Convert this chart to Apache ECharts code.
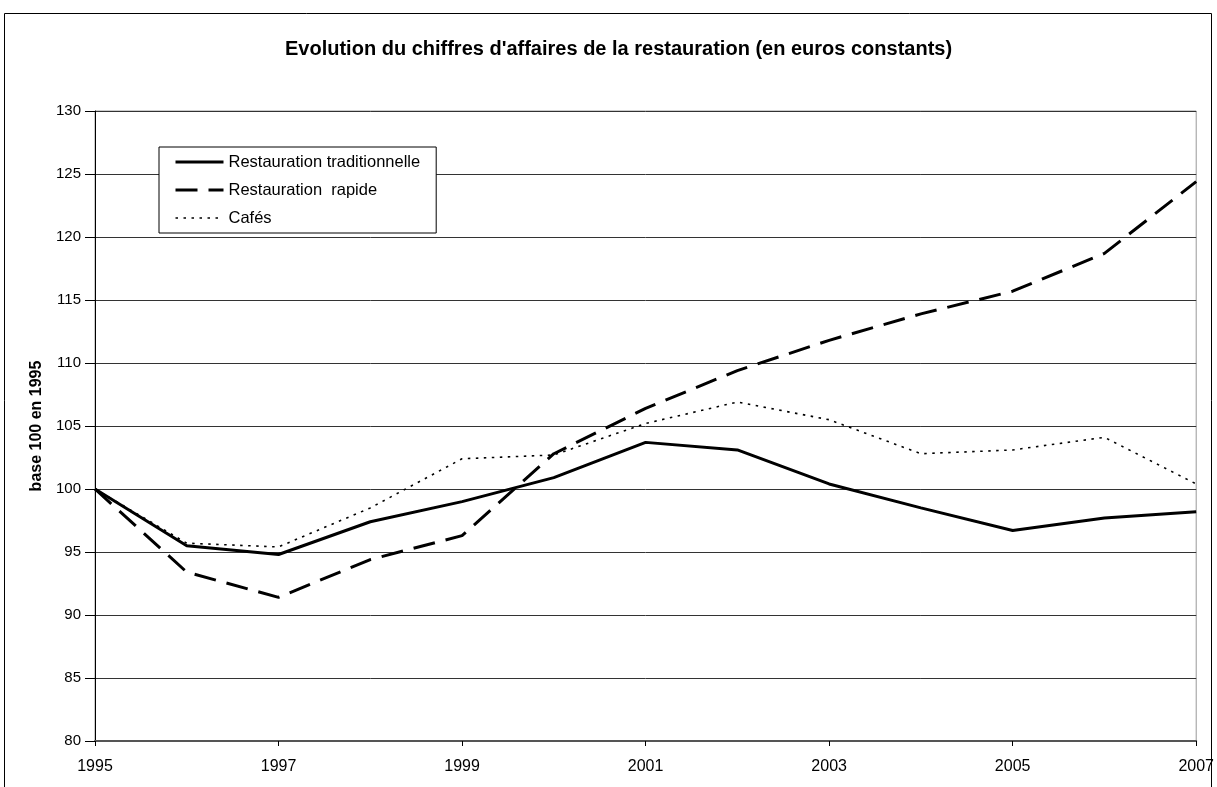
<!DOCTYPE html>
<html>
<head>
<meta charset="utf-8">
<script src="https://cdn.jsdelivr.net/npm/echarts@6/dist/echarts.min.js"></script>
<style>
html,body{margin:0;padding:0;background:#fff;}
#chart{width:1217px;height:787px;}
</style>
</head>
<body>
<div id="chart"></div>
<script>
var years = ['1995','1996','1997','1998','1999','2000','2001','2002','2003','2004','2005','2006','2007'];
var traditionnelle = [100, 95.5, 94.8, 97.4, 99.0, 100.9, 103.7, 103.1, 100.4, 98.5, 96.7, 97.7, 98.2];
var rapide = [100, 93.4, 91.4, 94.4, 96.3, 102.8, 106.4, 109.4, 111.8, 113.9, 115.7, 118.7, 124.4];
var cafes = [100, 95.7, 95.4, 98.5, 102.4, 102.7, 105.2, 106.9, 105.5, 102.8, 103.1, 104.1, 100.4];
var seriesNames = ['Restauration traditionnelle', 'Restauration  rapide', 'Cafés'];
var titleText = "Evolution du chiffres d'affaires de la restauration (en euros constants)";
var yAxisName = 'base 100 en 1995';

var chart = echarts.init(document.getElementById('chart'));
var font = 'Liberation Sans, Arial, sans-serif';
var styles = [
  {color: '#000', width: 3, type: 'solid'},
  {color: '#000', width: 3, type: [22, 11]},
  {color: '#000', width: 1.6, type: [2.5, 5.5]}
];
chart.setOption({
  animation: false,
  backgroundColor: '#fff',
  textStyle: {fontFamily: font},
  title: {
    text: titleText,
    left: 280,
    top: 34,
    textStyle: {fontFamily: font, fontSize: 20, fontWeight: 'bold', color: '#000'}
  },
  graphic: [{
    type: 'rect',
    shape: {x: 4.5, y: 13.5, width: 1207, height: 800},
    style: {fill: 'none', stroke: '#000', lineWidth: 1},
    z: -1
  }],
  legend: {
    orient: 'vertical',
    left: 159,
    top: 147,
    itemWidth: 48,
    itemHeight: 18,
    itemGap: 10,
    padding: [6, 16, 6, 15],
    backgroundColor: '#fff',
    borderColor: '#000',
    borderWidth: 1,
    itemStyle: {color: 'rgba(0,0,0,0)', borderColor: 'rgba(0,0,0,0)', borderWidth: 0},
    textStyle: {fontFamily: font, fontSize: 16.5, lineHeight: 18, color: '#000'},
    data: seriesNames.map(function (n, i) {
      return {name: n, lineStyle: {width: styles[i].width, type: styles[i].type, color: '#000'}};
    })
  },
  grid: {left: 95, right: 15, top: 111, bottom: 46, show: true, borderColor: '#999', borderWidth: 1, containLabel: false},
  xAxis: {
    type: 'category',
    data: years,
    boundaryGap: false,
    axisLine: {lineStyle: {color: '#555', width: 2}},
    axisTick: {show: true, interval: 1, length: 5, lineStyle: {color: '#000'}},
    axisLabel: {interval: 1, fontSize: 16, color: '#000', margin: 18, fontFamily: font},
    splitLine: {show: false}
  },
  yAxis: {
    type: 'value',
    min: 80,
    max: 130,
    interval: 5,
    name: yAxisName,
    nameLocation: 'middle',
    nameGap: 50,
    nameRotate: 90,
    nameTextStyle: {fontFamily: font, fontSize: 16, fontWeight: 'bold', color: '#000'},
    axisLine: {show: true, lineStyle: {color: '#000', width: 1}},
    axisTick: {show: true, length: 10, lineStyle: {color: '#000'}},
    axisLabel: {fontSize: 15, color: '#000', margin: 14, fontFamily: font},
    splitLine: {show: true, lineStyle: {color: '#333', width: 1}}
  },
  series: [
    {name: seriesNames[0], type: 'line', data: traditionnelle, symbol: 'none',
     lineStyle: styles[0], itemStyle: {color: '#000'}, z: 5},
    {name: seriesNames[1], type: 'line', data: rapide, symbol: 'none',
     lineStyle: styles[1], itemStyle: {color: '#000'}, z: 4},
    {name: seriesNames[2], type: 'line', data: cafes, symbol: 'none',
     lineStyle: styles[2], itemStyle: {color: '#000'}, z: 3}
  ]
});
</script>
</body>
</html>
